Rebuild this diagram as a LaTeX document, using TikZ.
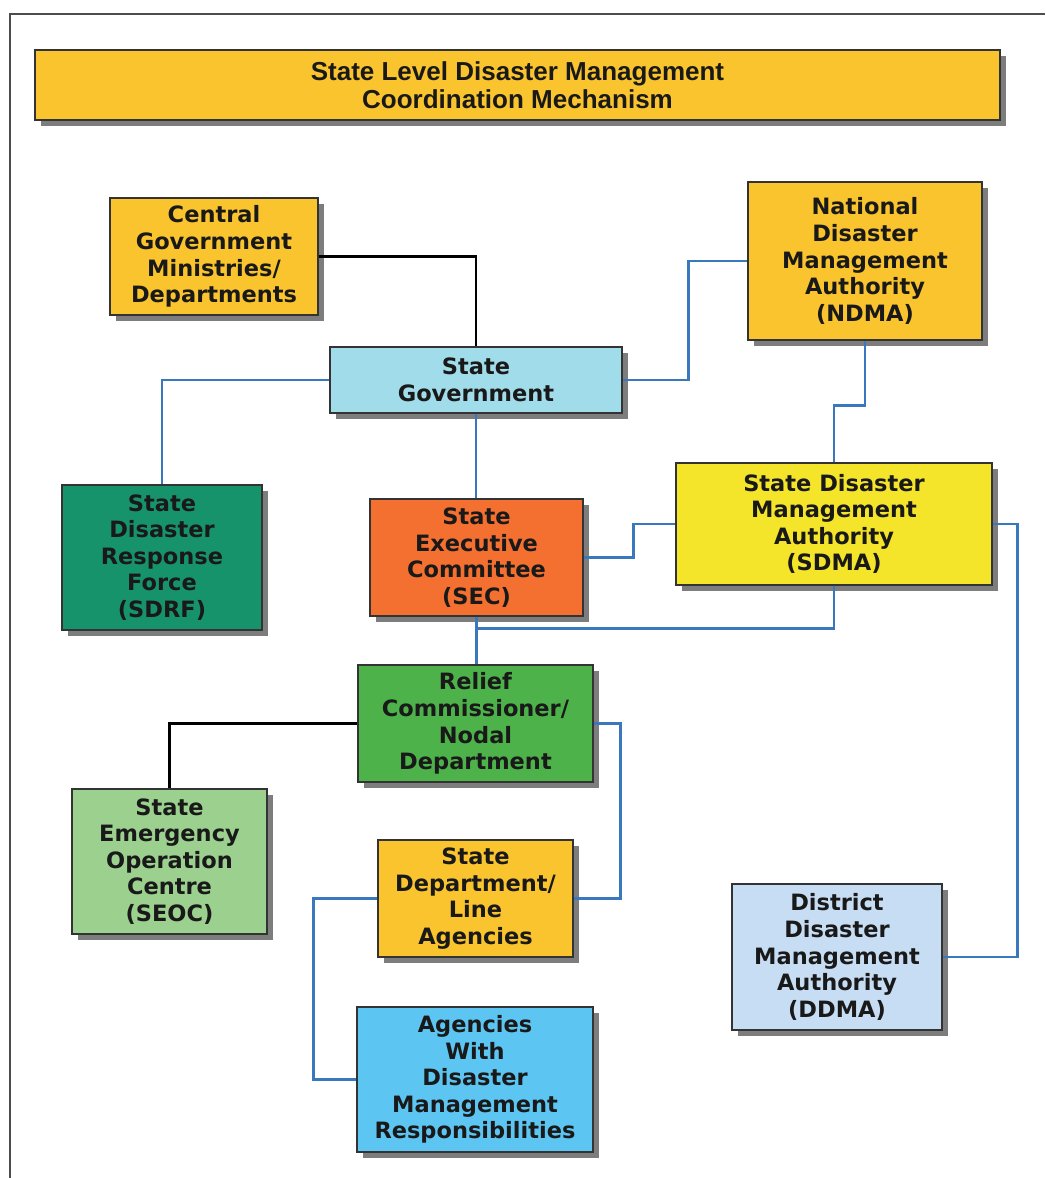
\documentclass[tikz,border=0pt]{standalone}
\usepackage{fontspec}
\setmainfont{DejaVu Sans}
\newfontfamily\titlefont{Liberation Sans}
\usetikzlibrary{shadows}

\definecolor{gold}{HTML}{FAC42E}
\definecolor{govblue}{HTML}{A0DCEA}
\definecolor{forcegreen}{HTML}{17936B}
\definecolor{secorange}{HTML}{F47030}
\definecolor{sdmayellow}{HTML}{F4E42A}
\definecolor{reliefgreen}{HTML}{4DB24A}
\definecolor{seocgreen}{HTML}{9BD08E}
\definecolor{agencyblue}{HTML}{5DC5F2}
\definecolor{ddmablue}{HTML}{C7DDF3}
\definecolor{linkblue}{HTML}{3A78BE}

\begin{document}
\begin{tikzpicture}[x=0.25mm, y=-0.25mm,
    unit/.style={draw=black!80, line width=0.9pt, inner sep=0pt, align=center,
        text=black!90, font=\bfseries\fontsize{16}{18.9}\selectfont,
        drop shadow={shadow xshift=1.5mm, shadow yshift=-1.5mm, fill=black!60, opacity=0.85}},
    link/.style={line width=2pt, linkblue},
    blacklink/.style={line width=2pt, black}]
    \useasboundingbox (0,0) rectangle (1045,1178);

    % Outer frame (only top and left edges are visible)
    \draw[line width=2pt, black!70] (1045,14) -- (10,14) -- (10,1178);

    % Heading
    \node[unit, fill=gold, minimum width=241.25mm, minimum height=17.5mm,
        font=\titlefont\bfseries\fontsize{18.5}{19.5}\selectfont] (head) at (517.5,85)
        {State Level Disaster Management\\Coordination Mechanism};

    % National and state level bodies
    \node[unit, fill=gold, minimum width=52mm, minimum height=29.25mm] (cgm) at (214,256.5)
        {Central\\Government\\Ministries/\\Departments};
    \node[unit, fill=govblue, minimum width=73mm, minimum height=16.5mm] (sgov) at (476,380)
        {State\\Government};
    \node[unit, fill=gold, minimum width=58.5mm, minimum height=39.5mm] (ndma) at (865,261)
        {National\\Disaster\\Management\\Authority\\(NDMA)};
    \node[unit, fill=forcegreen, minimum width=50mm, minimum height=36.25mm] (sdrf) at (162,557.5)
        {State\\Disaster\\Response\\Force\\(SDRF)};
    \node[unit, fill=secorange, minimum width=53.25mm, minimum height=29.25mm] (sec) at (476.5,557.5)
        {State\\Executive\\Committee\\(SEC)};
    \node[unit, fill=sdmayellow, minimum width=79mm, minimum height=30.5mm] (sdma) at (834,524)
        {State Disaster\\Management\\Authority\\(SDMA)};

    % Operational level
    \node[unit, fill=reliefgreen, minimum width=58.75mm, minimum height=29.25mm] (relief) at (475.5,723.5)
        {Relief\\Commissioner/\\Nodal\\Department};
    \node[unit, fill=seocgreen, minimum width=48.75mm, minimum height=36.25mm] (seoc) at (169.5,861.5)
        {State\\Emergency\\Operation\\Centre\\(SEOC)};
    \node[unit, fill=gold, minimum width=48.75mm, minimum height=29.25mm] (sdept) at (475.5,898.5)
        {State\\Department/\\Line\\Agencies};
    \node[unit, fill=agencyblue, minimum width=59mm, minimum height=36.25mm] (agency) at (475,1079.5)
        {Agencies\\With\\Disaster\\Management\\Responsibilities};
    \node[unit, fill=ddmablue, minimum width=52.5mm, minimum height=36.5mm] (ddma) at (837,957)
        {District\\Disaster\\Management\\Authority\\(DDMA)};

    % Connectors
    \draw[blacklink] (cgm.east) -| (sgov.north);
    \draw[link] (sgov.west) -| (sdrf.north);
    \draw[link] (sgov.east) -- ++(66,0) |- (ndma.west);
    \draw[link] (ndma.south) -- ++(0,65) -| (sdma.north);
    \draw[link] (sgov.south) -- (sgov.south |- sec.north);
    \draw[link] (sec.east) -- ++(50,0) |- (sdma.west);
    \draw[link] (sec.south) -- (sec.south |- relief.north);
    \draw[link] (sdma.south) -- ++(0,43) -| (sec.south);
    \draw[link] (sdma.east) -- ++(25,0) |- (ddma.east);
    \draw[blacklink] (relief.west) -| (seoc.north);
    \draw[link] (relief.east) -- ++(27,0) |- (sdept.east);
    \draw[link] (sdept.west) -- ++(-64,0) |- (agency.west);
\end{tikzpicture}
\end{document}
